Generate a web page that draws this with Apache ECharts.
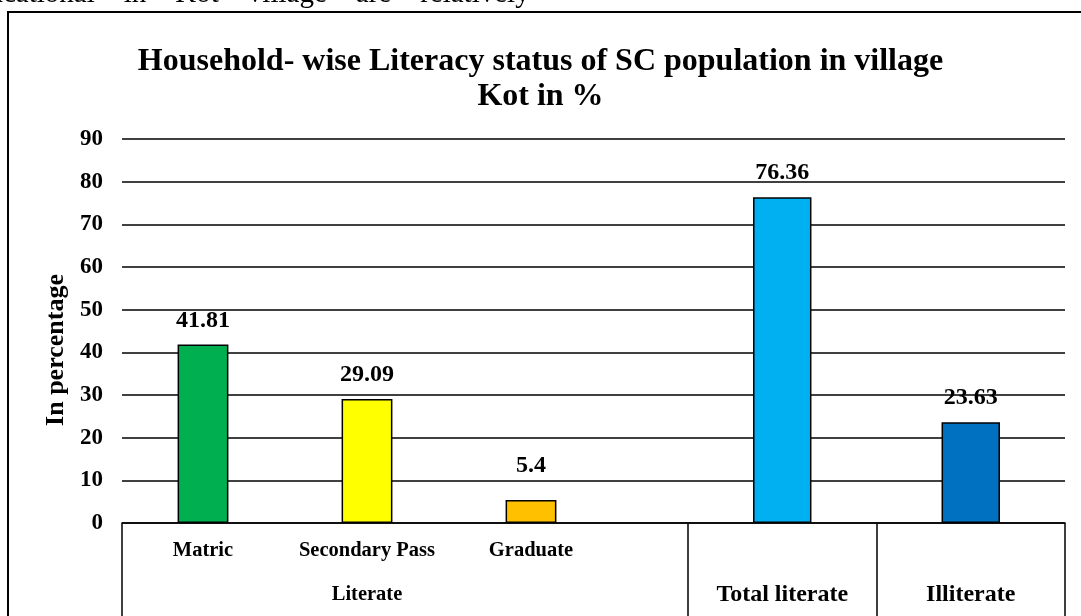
<!DOCTYPE html>
<html>
<head>
<meta charset="utf-8">
<script src="https://cdn.jsdelivr.net/npm/echarts@6/dist/echarts.min.js"></script>
<style>
html,body{margin:0;padding:0;background:#fff;}
#chart{width:1081px;height:616px;}
</style>
</head>
<body>
<div id="chart"></div>
<script>
// ---- data ----
var titleText = 'Household- wise Literacy status of SC population in village\nKot in %';
var yAxisName = 'In percentage';
var literateGroup = ['Literate'];
var literateCats = ['Matric', 'Secondary Pass', 'Graduate'];
var literateVals = [41.81, 29.09, 5.4];
var literateColors = ['#00B050', '#FFFF00', '#FFC000'];
var otherCats = ['Total literate', 'Illiterate'];
var otherVals = [76.36, 23.63];
var otherColors = ['#00B0F0', '#0070C0'];
var yMin = 0, yMax = 90, yStep = 10;
var clippedText = 'ducational    in    Kot    village    are    relatively';

var FONT = '"Liberation Serif", "Times New Roman", serif';

function buildData(vals, colors) {
  return vals.map(function (v, i) {
    var item = { value: v, itemStyle: { color: colors[i] } };
    if (v < 10) item.label = { distance: 22 };
    return item;
  });
}

var labelStyle = {
  show: true, position: 'top', distance: 12,
  color: '#000', fontFamily: FONT, fontWeight: 'bold', fontSize: 24
};

var chart = echarts.init(document.getElementById('chart'), null, { renderer: 'canvas' });
chart.setOption({
  animation: false,
  backgroundColor: '#fff',
  title: {
    text: titleText, left: 'center', top: 39,
    textStyle: { fontFamily: FONT, fontWeight: 'bold', fontSize: 32, lineHeight: 35, color: '#000' }
  },
  graphic: [
    { type: 'rect', silent: true, shape: { x: 8, y: 12, width: 1200, height: 800 },
      style: { fill: 'none', stroke: '#000', lineWidth: 2 } },
    { type: 'text', silent: true, x: -26, y: 8.5,
      style: { text: clippedText, font: '29px ' + FONT, fill: '#000', verticalAlign: 'bottom' } }
  ],
  grid: [
    { left: 122, top: 139, width: 943, height: 384 },
    { left: 121, top: 139, width: 492, height: 384 },
    { left: 688, top: 139, width: 377, height: 384 }
  ],
  xAxis: [
    { gridIndex: 0, type: 'category', data: [''],
      axisLine: { show: true, lineStyle: { color: '#000', width: 1.5 } },
      axisTick: { show: true, length: 100, interval: 0, lineStyle: { color: '#000', width: 1.5 } },
      axisLabel: { show: false }, splitLine: { show: false } },
    { gridIndex: 1, type: 'category', data: literateCats,
      axisLine: { show: false }, axisTick: { show: false },
      axisLabel: { interval: 0, margin: 17, color: '#000', fontFamily: FONT, fontWeight: 'bold', fontSize: 20.5 } },
    { gridIndex: 1, type: 'category', data: literateGroup, position: 'bottom',
      axisLine: { show: false }, axisTick: { show: false },
      axisLabel: { interval: 0, margin: 61, color: '#000', fontFamily: FONT, fontWeight: 'bold', fontSize: 20.5 } },
    { gridIndex: 2, type: 'category', data: otherCats,
      axisLine: { show: false },
      axisTick: { show: true, length: 100, interval: 0, lineStyle: { color: '#000', width: 1.5 } },
      axisLabel: { interval: 0, margin: 60, color: '#000', fontFamily: FONT, fontWeight: 'bold', fontSize: 24 } }
  ],
  yAxis: [
    { gridIndex: 0, type: 'value', min: yMin, max: yMax, interval: yStep,
      name: yAxisName, nameLocation: 'middle', nameGap: 42,
      nameTextStyle: { fontFamily: FONT, fontWeight: 'bold', fontSize: 26, color: '#000', padding: [0, 38, 0, 0] },
      axisLine: { show: false }, axisTick: { show: false },
      axisLabel: { margin: 19, color: '#000', fontFamily: FONT, fontWeight: 'bold', fontSize: 23 },
      splitLine: { show: true, lineStyle: { color: '#000', width: 1.5 } } },
    { gridIndex: 1, type: 'value', min: yMin, max: yMax, interval: yStep, show: false, splitLine: { show: false } },
    { gridIndex: 2, type: 'value', min: yMin, max: yMax, interval: yStep, show: false, splitLine: { show: false } }
  ],
  series: [
    { type: 'bar', xAxisIndex: 1, yAxisIndex: 1, barWidth: '31%',
      data: buildData(literateVals, literateColors),
      itemStyle: { borderColor: '#000', borderWidth: 1.5 },
      label: labelStyle },
    { type: 'bar', xAxisIndex: 3, yAxisIndex: 2, barWidth: '31%',
      data: buildData(otherVals, otherColors),
      itemStyle: { borderColor: '#000', borderWidth: 1.5 },
      label: labelStyle }
  ]
});
</script>
</body>
</html>
